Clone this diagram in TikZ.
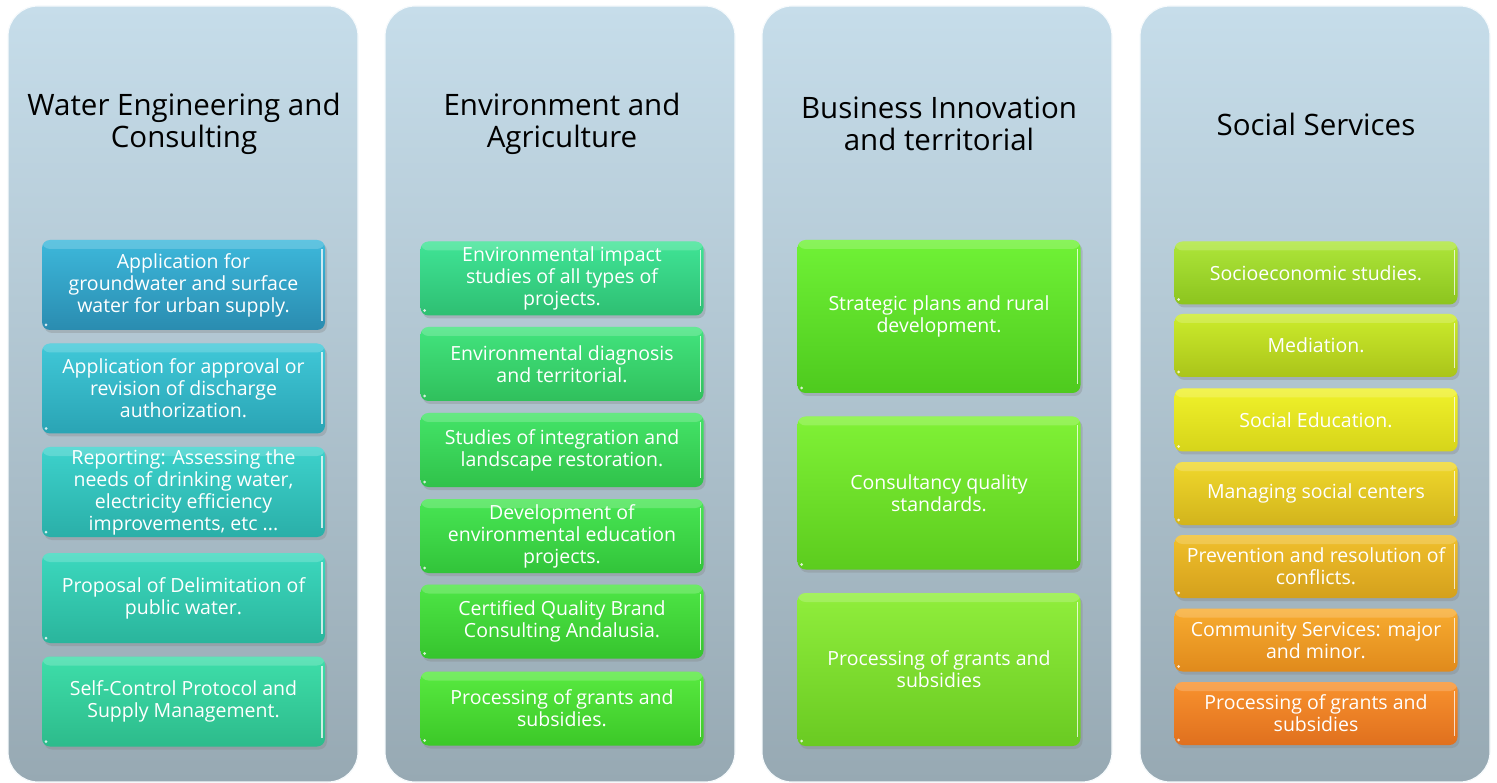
\documentclass[tikz,border=0pt]{standalone}
\usepackage{fontspec}
\setmainfont{Open Sans}
\usetikzlibrary{shadows}

\definecolor{panelhaut}{HTML}{C6DDEA}
\definecolor{panelbas}{HTML}{97A9B3}

\tikzset{
	colonne/.style={rounded corners=30pt, minimum width=350pt, minimum height=776pt,
		top color=panelhaut, bottom color=panelbas, draw=white!85!panelhaut, line width=1.2pt},
	titre/.style={align=center, text=black, font=\fontsize{29.5}{32}\selectfont},
	tache/.style={rounded corners=8pt, minimum width=283pt, align=center, text=white,
		font=\fontsize{19.5}{22}\selectfont, inner sep=1pt,
		drop shadow={opacity=0.3, shadow xshift=2pt, shadow yshift=-3pt},
		path picture={
			\fill[white,opacity=0.18] (path picture bounding box.north west) rectangle ([yshift=-9pt]path picture bounding box.north east);
			\draw[white,opacity=0.75,line width=1.6pt] ([xshift=-3pt,yshift=-9pt]path picture bounding box.north east) -- ([xshift=-3pt,yshift=9pt]path picture bounding box.south east);
			\fill[white,opacity=0.8] ([xshift=4pt,yshift=5pt]path picture bounding box.south west) circle (1.5pt);
		}},
	tacheA/.style={tache, minimum height=90pt},
	tacheB/.style={tache, minimum height=74pt},
	tacheC/.style={tache, minimum height=153pt},
	tacheD/.style={tache, minimum height=63pt}
}

\begin{document}
\begin{tikzpicture}[x=1pt, y=-1pt]
	\useasboundingbox (0,0) rectangle (1497,783);

	% Définition des colonnes
	\node[colonne] (eau) at (183,394) {};
	\node[colonne] (env) at (560,394) {};
	\node[colonne] (inno) at (937,394) {};
	\node[colonne] (soc) at (1315,394) {};

	% Titres
	\node[titre] (teau) at (184,124) {Water Engineering and\\Consulting};
	\node[titre] (tenv) at (562,124) {Environment and\\Agriculture};
	\node[titre] (tinno) at (939,124) {Business Innovation\\and territorial};
	\node[titre] (tsoc) at (1316,124) {Social Services};

	% Water Engineering and Consulting
	\node[tacheA, top color={rgb,255:red,61;green,184;blue,219}, bottom color={rgb,255:red,42;green,140;blue,176}] (e1) at (183.5,285) {Application for\\groundwater and surface\\water for urban supply.};
	\node[tacheA, top color={rgb,255:red,64;green,200;blue,216}, bottom color={rgb,255:red,42;green,164;blue,180}] (e2) at (183.5,388.5) {Application for approval or\\revision of discharge\\authorization.};
	\node[tacheA, top color={rgb,255:red,61;green,210;blue,204}, bottom color={rgb,255:red,42;green,175;blue,168}] (e3) at (183.5,492) {Reporting: Assessing the\\needs of drinking water,\\electricity efficiency\\improvements, etc ...};
	\node[tacheA, top color={rgb,255:red,60;green,216;blue,190}, bottom color={rgb,255:red,42;green,181;blue,156}] (e4) at (183.5,598) {Proposal of Delimitation of\\public water.};
	\node[tacheA, top color={rgb,255:red,62;green,222;blue,170}, bottom color={rgb,255:red,45;green,187;blue,139}] (e5) at (183.5,701.5) {Self-Control Protocol and\\Supply Management.};

	% Environment and Agriculture
	\node[tacheB, top color={rgb,255:red,64;green,228;blue,150}, bottom color={rgb,255:red,46;green,191;blue,114}] (a1) at (562,278.5) {Environmental impact\\studies of all types of\\projects.};
	\node[tacheB, top color={rgb,255:red,66;green,228;blue,126}, bottom color={rgb,255:red,48;green,192;blue,92}] (a2) at (562,364) {Environmental diagnosis\\and territorial.};
	\node[tacheB, top color={rgb,255:red,68;green,228;blue,104}, bottom color={rgb,255:red,48;green,194;blue,74}] (a3) at (562,450) {Studies of integration and\\landscape restoration.};
	\node[tacheB, top color={rgb,255:red,72;green,230;blue,84}, bottom color={rgb,255:red,50;green,196;blue,58}] (a4) at (562,536) {Development of\\environmental education\\projects.};
	\node[tacheB, top color={rgb,255:red,78;green,230;blue,70}, bottom color={rgb,255:red,54;green,196;blue,46}] (a5) at (562,621.5) {Certified Quality Brand\\Consulting Andalusia.};
	\node[tacheB, top color={rgb,255:red,88;green,234;blue,64}, bottom color={rgb,255:red,60;green,200;blue,40}] (a6) at (562,708.5) {Processing of grants and\\subsidies.};

	% Business Innovation and territorial
	\node[tacheC, top color={rgb,255:red,112;green,242;blue,54}, bottom color={rgb,255:red,78;green,202;blue,30}] (b1) at (939,316.5) {Strategic plans and rural\\development.};
	\node[tacheC, top color={rgb,255:red,128;green,242;blue,54}, bottom color={rgb,255:red,92;green,204;blue,30}] (b2) at (939,493) {Consultancy quality\\standards.};
	\node[tacheC, top color={rgb,255:red,144;green,238;blue,60}, bottom color={rgb,255:red,106;green,202;blue,34}] (b3) at (939,669.5) {Processing of grants and\\subsidies};

	% Social Services
	\node[tacheD, top color={rgb,255:red,174;green,230;blue,58}, bottom color={rgb,255:red,140;green,196;blue,30}] (s1) at (1316,273) {Socioeconomic studies.};
	\node[tacheD, top color={rgb,255:red,204;green,236;blue,44}, bottom color={rgb,255:red,170;green,196;blue,26}] (s2) at (1316,345.5) {Mediation.};
	\node[tacheD, top color={rgb,255:red,240;green,242;blue,42}, bottom color={rgb,255:red,214;green,212;blue,26}] (s3) at (1316,420) {Social Education.};
	\node[tacheD, top color={rgb,255:red,240;green,216;blue,44}, bottom color={rgb,255:red,210;green,180;blue,28}] (s4) at (1316,493.5) {Managing social centers};
	\node[tacheD, top color={rgb,255:red,240;green,192;blue,44}, bottom color={rgb,255:red,212;green,160;blue,28}] (s5) at (1316,566.5) {Prevention and resolution of\\conflicts.};
	\node[tacheD, top color={rgb,255:red,248;green,172;blue,48}, bottom color={rgb,255:red,224;green,138;blue,28}] (s6) at (1316,640) {Community Services: major\\and minor.};
	\node[tacheD, top color={rgb,255:red,248;green,146;blue,46}, bottom color={rgb,255:red,224;green,112;blue,30}] (s7) at (1316,713.5) {Processing of grants and\\subsidies};
\end{tikzpicture}
\end{document}
